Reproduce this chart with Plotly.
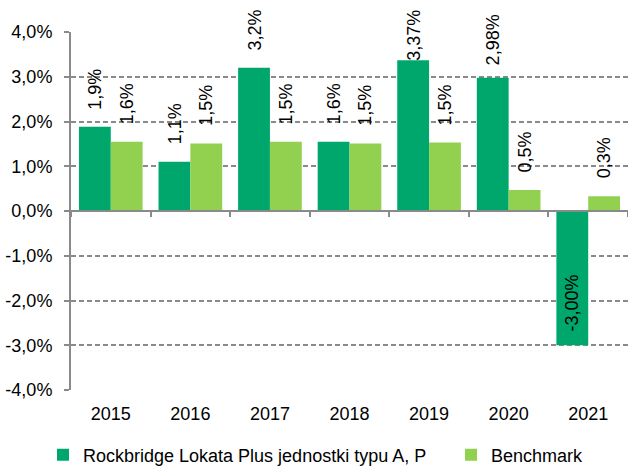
import plotly.graph_objects as go

years = ["2015", "2016", "2017", "2018", "2019", "2020", "2021"]
fund_name = "Rockbridge Lokata Plus jednostki typu A, P"
bench_name = "Benchmark"
fund_values = [1.88, 1.10, 3.20, 1.55, 3.37, 2.98, -3.00]
bench_values = [1.55, 1.51, 1.55, 1.51, 1.53, 0.47, 0.33]
fund_labels = ["1,9%", "1,1%", "3,2%", "1,6%", "3,37%", "2,98%", "-3,00%"]
bench_labels = ["1,6%", "1,5%", "1,5%", "1,5%", "1,5%", "0,5%", "0,3%"]
y_ticks = [-4, -3, -2, -1, 0, 1, 2, 3, 4]
y_ticktext = ["-4,0%", "-3,0%", "-2,0%", "-1,0%", "0,0%", "1,0%", "2,0%", "3,0%", "4,0%"]

DARK = "#00A76D"
LIGHT = "#92D050"
GRID = "#8A8A8A"
FONT = "Liberation Sans, Arial, sans-serif"
FS = 18

W, H = 628, 466
ML, MR, MT, MB = 71, 0, 32, 76
plot_w = W - ML - MR
plot_h = H - MT - MB
ymin, ymax = -4, 4
px_per_unit = plot_h / (ymax - ymin)
bargap = 0.2
cat_px = plot_w / len(years)
bar_px = cat_px * (1 - bargap) / 2

fig = go.Figure()
fig.add_trace(go.Bar(x=years, y=fund_values, name=fund_name, legend="legend",
                     marker=dict(color=DARK, line=dict(width=0))))
fig.add_trace(go.Bar(x=years, y=bench_values, name=bench_name, legend="legend2",
                     marker=dict(color=LIGHT, line=dict(width=0))))

char_w = {"%": 0.889, ",": 0.278, "-": 0.584}


def text_len(s):
    return sum(char_w.get(c, 0.556) for c in s) * FS


annotations = []
for vals, labels, sgn in ((fund_values, fund_labels, -1), (bench_values, bench_labels, 1)):
    for i, (v, lab) in enumerate(zip(vals, labels)):
        if v >= 0:
            L = text_len(lab)
            shift = min(38, 22 + (ymax - v) * px_per_unit - L / 2)
        else:
            shift = 42
        annotations.append(dict(
            x=i, y=v, xref="x2", yref="y", text=lab, showarrow=False,
            textangle=-90, xanchor="center", yanchor="middle",
            xshift=sgn * bar_px / 2, yshift=shift,
            font=dict(family=FONT, size=FS, color="#000000"),
        ))

leg_y = -(455 - (H - MB)) / plot_h
leg_common = dict(orientation="h", xanchor="left", y=leg_y, yanchor="middle",
                  font=dict(family=FONT, size=FS, color="#000000"),
                  bgcolor="rgba(0,0,0,0)")

fig.update_layout(
    width=W, height=H,
    margin=dict(l=ML, r=MR, t=MT, b=MB, pad=0, autoexpand=False),
    paper_bgcolor="white", plot_bgcolor="white",
    barmode="group", bargap=bargap, bargroupgap=0,
    font=dict(family=FONT, size=FS, color="#000000"),
    showlegend=True,
    legend=dict(x=(43 - ML) / plot_w, **leg_common),
    legend2=dict(x=(451 - ML) / plot_w, **leg_common),
    annotations=annotations,
    xaxis=dict(
        type="category", range=[-0.5, len(years) - 0.5],
        showline=False, ticks="", showgrid=False, zeroline=False,
        tickfont=dict(family=FONT, size=FS, color="#000000"),
        ticklabelstandoff=11,
    ),
    xaxis2=dict(
        overlaying="x", anchor="free", position=(0 - ymin) / (ymax - ymin),
        range=[-0.5, len(years) - 0.5],
        tickmode="array", tickvals=[i - 0.5 for i in range(len(years) + 1)],
        ticks="outside", ticklen=5, tickwidth=2, tickcolor=GRID,
        showticklabels=False, showline=True, linecolor=GRID, linewidth=2,
        showgrid=False, zeroline=False, side="bottom",
    ),
    yaxis=dict(
        range=[ymin, ymax], tickmode="array", tickvals=y_ticks, ticktext=y_ticktext,
        showline=True, linecolor=GRID, linewidth=2,
        ticks="outside", ticklen=5, tickwidth=2, tickcolor=GRID,
        showgrid=True, gridcolor=GRID, gridwidth=2, griddash="5px,3px",
        zeroline=True, zerolinecolor=GRID, zerolinewidth=2,
        tickfont=dict(family=FONT, size=FS, color="#000000"),
        ticklabelstandoff=8,
    ),
)

fig.write_html("out.html", config={"displayModeBar": False},
               post_script="document.body.style.margin='0';document.body.style.overflow='hidden';")
